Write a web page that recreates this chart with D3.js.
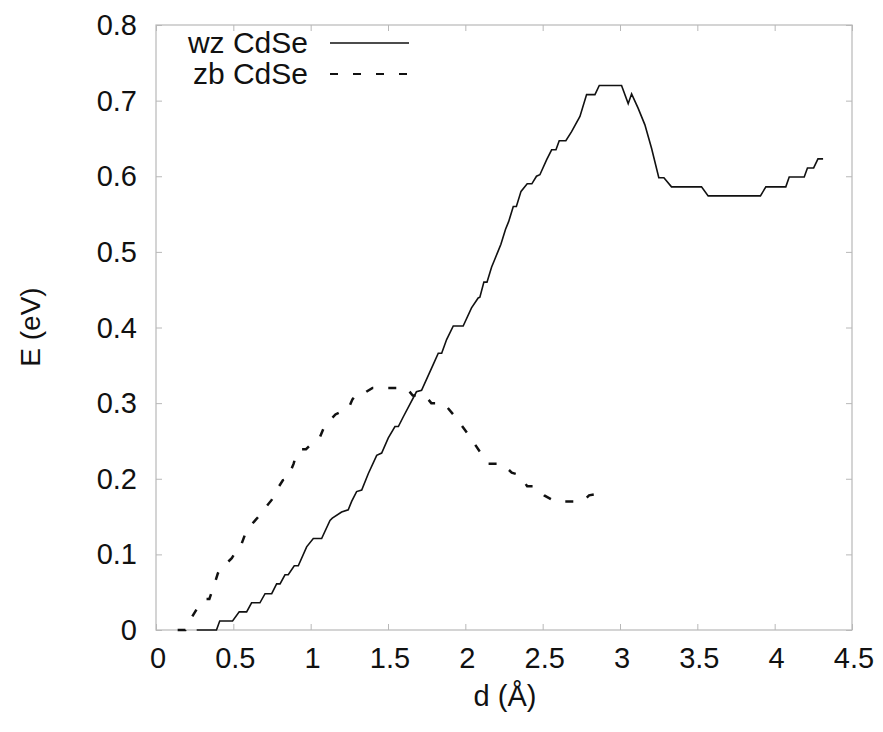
<!DOCTYPE html>
<html>
<head>
<meta charset="utf-8">
<script src="https://cdn.jsdelivr.net/npm/d3@7"></script>
<style>
  html, body { margin: 0; padding: 0; background: #fff; }
  svg { display: block; }
  text { font-family: "Liberation Sans", Arial, sans-serif; fill: #111; }
</style>
</head>
<body>
<svg id="chart" width="883" height="732"></svg>
<script>
// Energy profile E(d) for the two CdSe polytypes
const seriesNames = ["wz CdSe", "zb CdSe"];

const wzD = [0.263, 0.391, 0.412, 0.495, 0.538, 0.586, 0.618, 0.672, 0.705, 0.748,
  0.780, 0.802, 0.834, 0.855, 0.894, 0.920, 0.974, 1.017, 1.071, 1.125,
  1.140, 1.200, 1.243, 1.265, 1.297, 1.330, 1.373, 1.427, 1.459, 1.502,
  1.545, 1.567, 1.599, 1.684, 1.717, 1.792, 1.825, 1.847, 1.879, 1.922,
  1.986, 2.040, 2.083, 2.094, 2.120, 2.140, 2.170, 2.190, 2.210, 2.230,
  2.260, 2.280, 2.310, 2.330, 2.360, 2.400, 2.430, 2.460, 2.482, 2.526,
  2.558, 2.586, 2.607, 2.650, 2.687, 2.741, 2.784, 2.838, 2.866, 3.010,
  3.053, 3.075, 3.117, 3.161, 3.204, 3.251, 3.284, 3.333, 3.527, 3.570,
  3.908, 3.943, 4.072, 4.094, 4.191, 4.212, 4.252, 4.280, 4.313];
const wzE = [0, 0, 0.012, 0.012, 0.024, 0.024, 0.036, 0.036, 0.048, 0.048,
  0.061, 0.061, 0.073, 0.073, 0.085, 0.085, 0.110, 0.121, 0.121, 0.145,
  0.148, 0.156, 0.159, 0.170, 0.183, 0.185, 0.207, 0.231, 0.234, 0.254,
  0.269, 0.269, 0.282, 0.315, 0.317, 0.351, 0.366, 0.366, 0.384, 0.402,
  0.402, 0.426, 0.439, 0.440, 0.460, 0.460, 0.480, 0.490, 0.500, 0.510,
  0.530, 0.540, 0.560, 0.560, 0.580, 0.590, 0.590, 0.600, 0.602, 0.622,
  0.635, 0.635, 0.647, 0.647, 0.659, 0.679, 0.708, 0.708, 0.720, 0.720,
  0.696, 0.709, 0.690, 0.668, 0.637, 0.598, 0.598, 0.586, 0.586, 0.574,
  0.574, 0.586, 0.586, 0.599, 0.599, 0.611, 0.611, 0.623, 0.623];

const zbD = [0.14, 0.19, 0.235, 0.27, 0.32, 0.345, 0.38, 0.40, 0.43, 0.465,
  0.49, 0.53, 0.55, 0.586, 0.62, 0.672, 0.70, 0.748, 0.78, 0.82,
  0.85, 0.89, 0.91, 0.94, 0.97, 1.00, 1.06, 1.09, 1.125, 1.16,
  1.21, 1.243, 1.27, 1.29, 1.33, 1.36, 1.40, 1.62, 1.66, 1.74,
  1.78, 1.86, 1.93, 2.01, 2.09, 2.15, 2.24, 2.30, 2.35, 2.40,
  2.45, 2.51, 2.58, 2.76, 2.80, 2.88];
const zbE = [0, 0, 0.018, 0.030, 0.041, 0.041, 0.062, 0.075, 0.085, 0.090,
  0.095, 0.108, 0.112, 0.132, 0.140, 0.152, 0.160, 0.172, 0.185, 0.198,
  0.200, 0.220, 0.235, 0.239, 0.239, 0.245, 0.255, 0.270, 0.277, 0.285,
  0.290, 0.292, 0.305, 0.310, 0.310, 0.315, 0.320, 0.320, 0.310, 0.310,
  0.300, 0.300, 0.283, 0.261, 0.237, 0.220, 0.220, 0.208, 0.205, 0.190,
  0.190, 0.178, 0.170, 0.170, 0.178, 0.181];

const xTicks = [0, 0.5, 1, 1.5, 2, 2.5, 3, 3.5, 4, 4.5];
const yTicks = [0, 0.1, 0.2, 0.3, 0.4, 0.5, 0.6, 0.7, 0.8];
const xTitle = "d (Å)";
const yTitle = "E (eV)";

const svg = d3.select("#chart");
const plotL = 156, plotR = 852, plotT = 25, plotB = 630;

const x = d3.scaleLinear().domain([0, 4.5]).range([plotL, plotR]);
const y = d3.scaleLinear().domain([0, 0.8]).range([plotB, plotT]);

const frameColor = "#b8b8b8";
const tickLen = 6;
const fontSize = 29;

// inward ticks on all four sides
const axes = [
  d3.axisBottom(x).tickValues(xTicks).tickSize(-tickLen).tickFormat(""),
  d3.axisTop(x).tickValues(xTicks).tickSize(-tickLen).tickFormat(""),
  d3.axisLeft(y).tickValues(yTicks).tickSize(-tickLen).tickFormat(""),
  d3.axisRight(y).tickValues(yTicks).tickSize(-tickLen).tickFormat("")
];
const shifts = [[0, plotB], [0, plotT], [plotL, 0], [plotR, 0]];
axes.forEach((ax, i) => {
  const g = svg.append("g")
    .attr("transform", `translate(${shifts[i][0]},${shifts[i][1]})`)
    .call(ax);
  g.select(".domain").remove();
  g.selectAll("line").attr("stroke", frameColor).attr("stroke-width", 1);
});

// frame
svg.append("rect")
  .attr("x", plotL).attr("y", plotT)
  .attr("width", plotR - plotL).attr("height", plotB - plotT)
  .attr("fill", "none").attr("stroke", frameColor).attr("stroke-width", 1.2);

// tick labels
svg.append("g").selectAll("text")
  .data(xTicks).join("text")
  .attr("x", d => x(d) + 2)
  .attr("y", 668)
  .attr("text-anchor", "middle")
  .attr("font-size", fontSize)
  .text(d => d);

svg.append("g").selectAll("text")
  .data(yTicks).join("text")
  .attr("x", 137)
  .attr("y", d => y(d) + 10)
  .attr("text-anchor", "end")
  .attr("font-size", fontSize)
  .text(d => d);

// axis titles
svg.append("text")
  .attr("x", 505).attr("y", 706)
  .attr("text-anchor", "middle")
  .attr("font-size", fontSize)
  .text(xTitle);

svg.append("text")
  .attr("transform", "translate(40,327) rotate(-90)")
  .attr("text-anchor", "middle")
  .attr("font-size", fontSize - 1)
  .text(yTitle);

// curves
const line = d3.line().x(d => x(d[0])).y(d => y(d[1]));
const wzPts = wzD.map((d, i) => [d, wzE[i]]);
const zbPts = zbD.map((d, i) => [d, zbE[i]]);

svg.append("path")
  .attr("d", line(wzPts))
  .attr("fill", "none").attr("stroke", "#111")
  .attr("stroke-width", 1.6)
  .attr("stroke-linejoin", "miter");

svg.append("path")
  .attr("d", line(zbPts))
  .attr("fill", "none").attr("stroke", "#111")
  .attr("stroke-width", 2.5)
  .attr("stroke-dasharray", "8,15");

// legend
const legend = svg.append("g");
const legendRows = [
  { name: seriesNames[0], dash: null, w: 1.6, yy: 43 },
  { name: seriesNames[1], dash: "8,15", w: 2.2, yy: 74 }
];
legendRows.forEach(r => {
  legend.append("text")
    .attr("x", 308).attr("y", r.yy + 10)
    .attr("text-anchor", "end")
    .attr("font-size", 30)
    .text(r.name);
  legend.append("line")
    .attr("x1", 330).attr("x2", 409)
    .attr("y1", r.yy).attr("y2", r.yy)
    .attr("stroke", "#111")
    .attr("stroke-width", r.w)
    .attr("stroke-dasharray", r.dash);
});
</script>
</body>
</html>
